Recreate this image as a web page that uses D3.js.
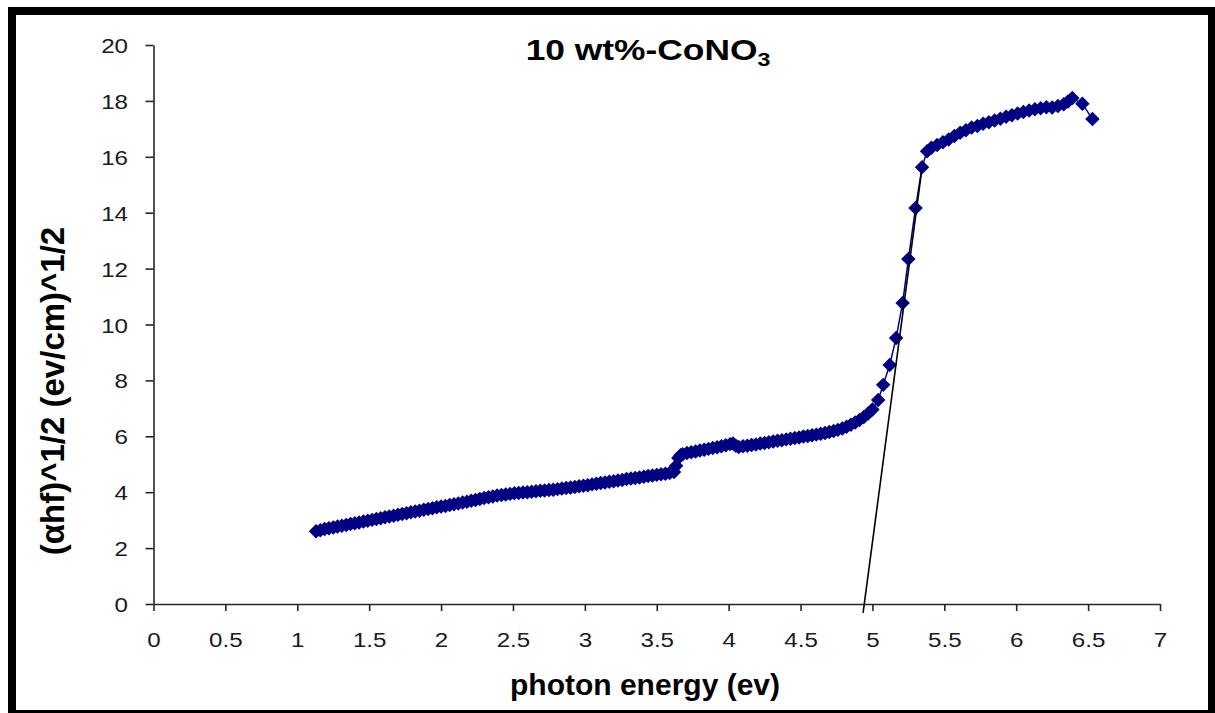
<!DOCTYPE html>
<html>
<head>
<meta charset="utf-8">
<script src="https://cdn.jsdelivr.net/npm/d3@7"></script>
<style>
  body { margin: 0; background: #fff; }
  svg { display: block; }
  text { font-family: "Liberation Sans", Arial, sans-serif; }
</style>
</head>
<body>
<svg id="chart" width="1215" height="713"></svg>
<script>
// Photon energy (eV)
const energy = [
  1.13, 1.16, 1.19, 1.22, 1.25, 1.28, 1.31, 1.34, 1.37, 1.40,
  1.43, 1.46, 1.49, 1.52, 1.55, 1.58, 1.61, 1.64, 1.67, 1.70,
  1.73, 1.76, 1.79, 1.82, 1.85, 1.88, 1.91, 1.94, 1.97, 2.00,
  2.03, 2.06, 2.09, 2.12, 2.15, 2.18, 2.21, 2.24, 2.27, 2.30,
  2.33, 2.36, 2.39, 2.42, 2.45, 2.48, 2.51, 2.54, 2.57, 2.60,
  2.63, 2.66, 2.69, 2.72, 2.75, 2.78, 2.81, 2.84, 2.87, 2.90,
  2.93, 2.96, 2.99, 3.02, 3.05, 3.08, 3.11, 3.14, 3.17, 3.20,
  3.23, 3.26, 3.29, 3.32, 3.35, 3.38, 3.41, 3.44, 3.47, 3.50,
  3.53, 3.56, 3.59, 3.62, 3.635, 3.65, 3.665, 3.68, 3.71, 3.74,
  3.77, 3.80, 3.83, 3.86, 3.89, 3.92, 3.95, 3.98, 4.01, 4.03,
  4.05, 4.07, 4.10, 4.13, 4.16, 4.19, 4.22, 4.25, 4.28, 4.31,
  4.34, 4.37, 4.40, 4.43, 4.46, 4.49, 4.52, 4.55, 4.58, 4.61,
  4.64, 4.67, 4.70, 4.73, 4.76, 4.79, 4.82, 4.85, 4.88, 4.91,
  4.94, 4.97, 5.00, 5.04, 5.075, 5.12, 5.165, 5.21, 5.25, 5.30,
  5.345, 5.38, 5.41, 5.45, 5.49, 5.53, 5.57, 5.61, 5.65, 5.69,
  5.73, 5.77, 5.81, 5.85, 5.89, 5.93, 5.97, 6.01, 6.05, 6.09,
  6.13, 6.17, 6.21, 6.25, 6.29, 6.33, 6.36, 6.39, 6.46, 6.53
];

// (αhf)^1/2 (eV/cm)^1/2
const value = [
  2.60, 2.64, 2.68, 2.71, 2.74, 2.77, 2.80, 2.83, 2.86, 2.89,
  2.92, 2.95, 2.98, 3.01, 3.04, 3.07, 3.10, 3.13, 3.16, 3.19,
  3.22, 3.25, 3.28, 3.31, 3.34, 3.37, 3.40, 3.43, 3.46, 3.49,
  3.51, 3.54, 3.57, 3.60, 3.63, 3.66, 3.69, 3.72, 3.76, 3.79,
  3.82, 3.85, 3.88, 3.90, 3.92, 3.94, 3.96, 3.97, 3.99, 4.00,
  4.02, 4.03, 4.05, 4.06, 4.08, 4.09, 4.11, 4.13, 4.15, 4.17,
  4.19, 4.21, 4.23, 4.25, 4.28, 4.30, 4.33, 4.35, 4.37, 4.39,
  4.42, 4.44, 4.47, 4.49, 4.51, 4.53, 4.55, 4.58, 4.60, 4.62,
  4.64, 4.66, 4.69, 4.72, 4.95, 5.22, 5.32, 5.36, 5.40, 5.43,
  5.46, 5.49, 5.52, 5.55, 5.58, 5.61, 5.64, 5.68, 5.72, 5.74,
  5.66, 5.62, 5.64, 5.66, 5.69, 5.71, 5.74, 5.76, 5.79, 5.81,
  5.84, 5.86, 5.89, 5.91, 5.94, 5.96, 5.99, 6.01, 6.04, 6.06,
  6.09, 6.12, 6.15, 6.19, 6.23, 6.28, 6.34, 6.41, 6.49, 6.58,
  6.69, 6.82, 6.96, 7.30, 7.84, 8.55, 9.52, 10.77, 12.34, 14.17,
  15.63, 16.20, 16.32, 16.42, 16.52, 16.62, 16.74, 16.86, 16.95, 17.05,
  17.10, 17.18, 17.24, 17.30, 17.36, 17.43, 17.49, 17.55, 17.60, 17.66,
  17.70, 17.74, 17.77, 17.76, 17.82, 17.88, 17.98, 18.10, 17.90, 17.35
];

// Linear fit through the absorption edge, extrapolated to the energy axis
const fitEnergy = [4.935, 5.345];
const fitValue = [-0.32, 15.6];

const xTicks = [0, 0.5, 1, 1.5, 2, 2.5, 3, 3.5, 4, 4.5, 5, 5.5, 6, 6.5, 7];
const yTicks = [0, 2, 4, 6, 8, 10, 12, 14, 16, 18, 20];

const titleMain = "10 wt%-CoNO";
const titleSub = "3";
const xLabel = "photon energy (ev)";
const yLabel = "(αhf)^1/2 (ev/cm)^1/2";

const W = 1215, H = 713;
const svg = d3.select("#chart");

svg.append("rect").attr("width", W).attr("height", H).attr("fill", "#fff");

// outer frame
svg.append("rect")
  .attr("x", 12).attr("y", 11)
  .attr("width", 1200).attr("height", 703)
  .attr("fill", "none").attr("stroke", "#000").attr("stroke-width", 8);

const x = d3.scaleLinear().domain([0, 7]).range([153.5, 1160]);
const y = d3.scaleLinear().domain([0, 20]).range([604, 45]);

const axisColor = "#262626";
const tickFont = 21;

// y axis
const gy = svg.append("g").attr("transform", `translate(${x(0)},0)`)
  .call(d3.axisLeft(y).tickValues(yTicks).tickSize(8).tickSizeOuter(0).tickFormat(d3.format("d")));
gy.select(".domain").attr("stroke", axisColor).attr("stroke-width", 1.6);
gy.selectAll(".tick line").attr("stroke", axisColor).attr("stroke-width", 1.6);
gy.selectAll(".tick text")
  .attr("x", null).attr("dy", "0.36em")
  .attr("transform", "translate(-25.5,0) scale(1.15,1)")
  .attr("text-anchor", "end")
  .attr("fill", "#1a1a1a")
  .style("font-family", "'Liberation Sans', Arial, sans-serif")
  .style("font-size", tickFont + "px");

// x axis
const gx = svg.append("g").attr("transform", `translate(0,${y(0)})`)
  .call(d3.axisBottom(x).tickValues(xTicks).tickSize(7).tickSizeOuter(0).tickFormat(d => String(d)));
gx.select(".domain").attr("stroke", axisColor).attr("stroke-width", 1.6);
gx.selectAll(".tick line").attr("stroke", axisColor).attr("stroke-width", 1.6);
gx.selectAll(".tick text")
  .attr("y", null).attr("dy", null)
  .attr("transform", "translate(0,43) scale(1.15,1)")
  .attr("text-anchor", "middle")
  .attr("fill", "#1a1a1a")
  .style("font-family", "'Liberation Sans', Arial, sans-serif")
  .style("font-size", tickFont + "px");

// data series
const pts = energy.map((e, i) => ({ e, v: value[i] }));
const navy = "#000080";

svg.append("path")
  .datum(pts)
  .attr("fill", "none")
  .attr("stroke", navy)
  .attr("stroke-width", 1.5)
  .attr("d", d3.line().x(d => x(d.e)).y(d => y(d.v)));

const diamond = d3.symbol().type(d3.symbolSquare).size(105);
svg.append("g").selectAll("path")
  .data(pts)
  .join("path")
  .attr("d", diamond)
  .attr("transform", d => `translate(${x(d.e)},${y(d.v)}) rotate(45)`)
  .attr("fill", navy);

// fitted line
svg.append("line")
  .attr("x1", x(fitEnergy[0])).attr("y1", y(fitValue[0]))
  .attr("x2", x(fitEnergy[1])).attr("y2", y(fitValue[1]))
  .attr("stroke", "#000").attr("stroke-width", 1.6);

// title
const t = svg.append("text")
  .attr("transform", "translate(648,60) scale(1.22,1)")
  .attr("text-anchor", "middle")
  .style("font-size", "29px").style("font-weight", "bold")
  .attr("fill", "#000");
t.append("tspan").text(titleMain);
t.append("tspan").attr("dy", 6).style("font-size", "19px").text(titleSub);

// axis titles
svg.append("text")
  .attr("x", 645).attr("y", 695)
  .attr("text-anchor", "middle")
  .style("font-size", "30px").style("font-weight", "bold")
  .attr("fill", "#000")
  .text(xLabel);

svg.append("text")
  .attr("transform", "translate(64,391) rotate(-90)")
  .attr("text-anchor", "middle")
  .style("font-size", "33px").style("font-weight", "bold")
  .attr("fill", "#000")
  .text(yLabel);
</script>
</body>
</html>
